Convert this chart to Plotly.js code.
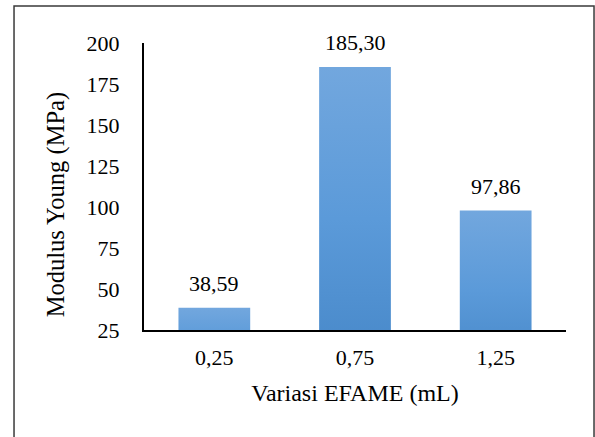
<!DOCTYPE html>
<html>
<head>
<meta charset="utf-8">
<script src="https://cdn.plot.ly/plotly-3.0.1.min.js"></script>
<style>
  html, body { margin: 0; padding: 0; background: #fff; }
  #chart { width: 595px; height: 437px; }
</style>
</head>
<body>
<div id="chart"></div>
<script>
// EFAME volume variations (mL) and measured Young's modulus (MPa)
const categories = ['0,25', '0,75', '1,25'];
const modulus = [38.59, 185.30, 97.86];
const yTicks = [25, 50, 75, 100, 125, 150, 175, 200];

const serif = 'Liberation Serif';

// decimal comma, two decimals
const fmt = v => v.toFixed(2).replace('.', ',');

const trace = {
  type: 'bar',
  x: categories,
  y: modulus,
  marker: { color: '#5b96d3', line: { width: 0 } },
  hoverinfo: 'none'
};

const valueLabels = categories.map((c, i) => ({
  x: c,
  y: modulus[i],
  xref: 'x',
  yref: 'y',
  text: fmt(modulus[i]),
  showarrow: false,
  yanchor: 'bottom',
  yshift: 10,
  font: { family: serif, size: 22, color: '#000' }
}));

const layout = {
  width: 595,
  height: 437,
  margin: { l: 144, r: 29, t: 43, b: 107 },
  paper_bgcolor: '#fff',
  plot_bgcolor: '#fff',
  showlegend: false,
  bargap: 0.49,
  font: { family: serif, size: 22, color: '#000' },
  xaxis: {
    type: 'category',
    showgrid: false,
    zeroline: false,
    showline: true,
    linecolor: '#000',
    linewidth: 2,
    ticks: '',
    ticklabelstandoff: 7,
    tickfont: { family: serif, size: 22, color: '#000' },
    title: {
      text: 'Variasi EFAME (mL)',
      standoff: 15,
      font: { family: serif, size: 24, color: '#000' }
    }
  },
  yaxis: {
    range: [25, 200],
    tickvals: yTicks,
    ticktext: yTicks.map(String),
    showgrid: false,
    zeroline: false,
    showline: true,
    linecolor: '#000',
    linewidth: 2,
    ticks: '',
    ticklabelstandoff: 18,
    tickfont: { family: serif, size: 22, color: '#000' }
  },
  annotations: valueLabels.concat([{
    xref: 'paper',
    yref: 'paper',
    x: -0.208,
    y: 0.4355,
    xanchor: 'center',
    yanchor: 'middle',
    textangle: -90,
    showarrow: false,
    text: 'Modulus Young (MPa)',
    font: { family: serif, size: 24.5, color: '#000' }
  }]),
  shapes: [{
    type: 'rect',
    xref: 'paper',
    yref: 'paper',
    x0: -0.308,
    x1: 1.0664,
    y0: -0.39,
    y1: 1.1289,
    line: { color: '#3a3a3a', width: 1.5 },
    fillcolor: 'rgba(0,0,0,0)'
  }]
};

Plotly.newPlot('chart', [trace], layout, { staticPlot: true }).then(gd => {
  // vertical light-to-dark blue shading on each bar
  const svg = gd.querySelector('svg.main-svg');
  const ns = 'http://www.w3.org/2000/svg';
  let defs = svg.querySelector('defs');
  if (!defs) { defs = document.createElementNS(ns, 'defs'); svg.insertBefore(defs, svg.firstChild); }
  const grad = document.createElementNS(ns, 'linearGradient');
  grad.setAttribute('id', 'barShade');
  grad.setAttribute('x1', '0'); grad.setAttribute('y1', '0');
  grad.setAttribute('x2', '0'); grad.setAttribute('y2', '1');
  [['0', '#72a7de'], ['0.5', '#5b9ad9'], ['1', '#4687c8']].forEach(([o, c]) => {
    const s = document.createElementNS(ns, 'stop');
    s.setAttribute('offset', o);
    s.setAttribute('stop-color', c);
    grad.appendChild(s);
  });
  defs.appendChild(grad);
  gd.querySelectorAll('.barlayer .point path').forEach(p => {
    p.style.fill = 'url(#barShade)';
  });
});
</script>
</body>
</html>
